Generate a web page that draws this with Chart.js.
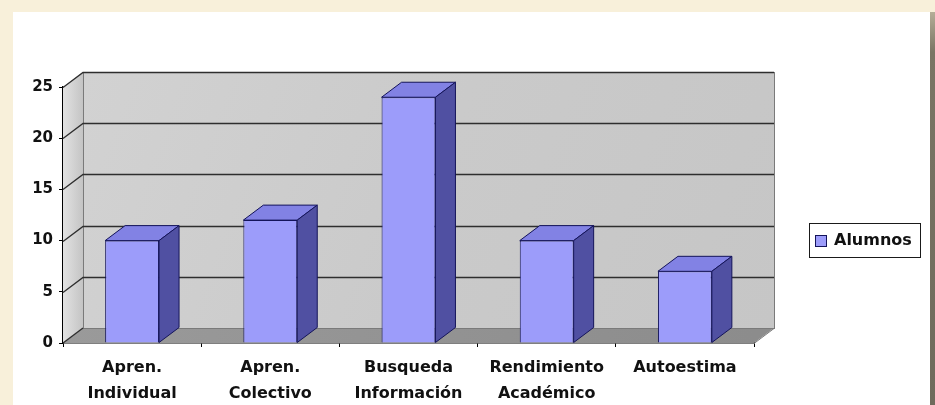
<!DOCTYPE html>
<html>
<head>
<meta charset="utf-8">
<script src="https://cdn.jsdelivr.net/npm/chart.js@4/dist/chart.umd.min.js"></script>
<style>
  html, body { margin:0; padding:0; width:935px; height:405px; overflow:hidden; background:#f8f0da; }
  #panel { position:absolute; left:13px; top:12px; width:917px; height:393px; background:#ffffff; }
  #shadow { position:absolute; left:930px; top:12px; width:5px; height:393px;
            background:linear-gradient(to bottom, #b5ae98 0px, #7a7564 40px, #6f6b5c 100%); }
  #wrap { position:absolute; left:0; top:0; width:935px; height:405px; }
</style>
</head>
<body>
<div id="panel"></div>
<div id="shadow"></div>
<div id="wrap"><canvas id="c" width="935" height="405"></canvas></div>
<script>
// ---- data ----
const categories = [
  ['Apren.', 'Individual'],
  ['Apren.', 'Colectivo'],
  ['Busqueda', 'Información'],
  ['Rendimiento', 'Académico'],
  ['Autoestima']
];
const seriesName = 'Alumnos';
const alumnos = [10, 12, 24, 10, 7];
const yTicks = [0, 5, 10, 15, 20, 25];

// ---- 3D look ----
const DX = 20, DY = -15;
const FONT = '"DejaVu Sans", Verdana, sans-serif';

const walls3d = {
  id: 'walls3d',
  beforeDatasetsDraw(chart) {
    const ctx = chart.ctx;
    const a = chart.chartArea;
    const ys = chart.scales.y;
    const L = a.left, R = a.right, T = a.top, B = a.bottom;
    ctx.save();
    // back wall
    let g = ctx.createLinearGradient(L + DX, T + DY, R + DX, B + DY);
    g.addColorStop(0, '#d2d2d2');
    g.addColorStop(0.5, '#cacaca');
    g.addColorStop(1, '#c6c6c6');
    ctx.fillStyle = g;
    ctx.fillRect(L + DX, T + DY, R - L, B - T);
    // left wall
    g = ctx.createLinearGradient(L, 0, L + DX, 0);
    g.addColorStop(0, '#e2e2e2');
    g.addColorStop(1, '#c4c4c4');
    ctx.fillStyle = g;
    ctx.beginPath();
    ctx.moveTo(L, B); ctx.lineTo(L, T); ctx.lineTo(L + DX, T + DY); ctx.lineTo(L + DX, B + DY);
    ctx.closePath(); ctx.fill();
    // floor
    g = ctx.createLinearGradient(L, 0, R, 0);
    g.addColorStop(0, '#9a9a9a');
    g.addColorStop(1, '#8c8c8c');
    ctx.fillStyle = g;
    ctx.beginPath();
    ctx.moveTo(L, B); ctx.lineTo(R, B); ctx.lineTo(R + DX, B + DY); ctx.lineTo(L + DX, B + DY);
    ctx.closePath(); ctx.fill();
    // back wall outline
    ctx.strokeStyle = '#7a7a7a';
    ctx.lineWidth = 1;
    ctx.strokeRect(L + DX + 0.5, T + DY + 0.5, R - L, B - T);
    ctx.beginPath();
    ctx.moveTo(R, B + 0.5); ctx.lineTo(R + DX, B + DY + 0.5);
    ctx.stroke();
    // gridlines
    ctx.strokeStyle = '#2e2e2e';
    ctx.lineWidth = 1.3;
    yTicks.forEach(v => {
      if (v === 0) return;
      const y = Math.round(ys.getPixelForValue(v)) + 0.5;
      ctx.beginPath();
      ctx.moveTo(L, y);
      ctx.lineTo(L + DX, y + DY);
      ctx.lineTo(R + DX, y + DY);
      ctx.stroke();
    });
    ctx.beginPath();
    ctx.moveTo(L, B); ctx.lineTo(L + DX, B + DY);
    ctx.stroke();
    ctx.restore();
  },
  afterDatasetsDraw(chart) {
    const ctx = chart.ctx;
    const meta = chart.getDatasetMeta(0);
    ctx.save();
    ctx.lineWidth = 1;
    ctx.strokeStyle = '#14145a';
    meta.data.forEach(bar => {
      const p = bar.getProps(['x', 'y', 'base', 'width'], true);
      const l = p.x - p.width / 2, r = p.x + p.width / 2, t = p.y, b = p.base;
      // top
      ctx.fillStyle = '#8282e4';
      ctx.beginPath();
      ctx.moveTo(l, t); ctx.lineTo(l + DX, t + DY); ctx.lineTo(r + DX, t + DY); ctx.lineTo(r, t);
      ctx.closePath(); ctx.fill(); ctx.stroke();
      // side
      ctx.fillStyle = '#5050a2';
      ctx.beginPath();
      ctx.moveTo(r, t); ctx.lineTo(r + DX, t + DY); ctx.lineTo(r + DX, b + DY); ctx.lineTo(r, b);
      ctx.closePath(); ctx.fill(); ctx.stroke();
    });
    ctx.restore();
  },
  afterDraw(chart) {
    const ctx = chart.ctx;
    const ds = chart.data.datasets[0];
    ctx.save();
    ctx.strokeStyle = '#1a1a1a';
    ctx.lineWidth = 1;
    ctx.strokeRect(809.5, 223.5, 111, 34);
    ctx.fillStyle = ds.backgroundColor;
    ctx.fillRect(815, 235, 12, 12);
    ctx.strokeStyle = '#14145a';
    ctx.strokeRect(815.5, 235.5, 11, 11);
    ctx.fillStyle = '#111';
    ctx.font = 'bold 16px ' + FONT;
    ctx.textBaseline = 'middle';
    ctx.textAlign = 'left';
    ctx.fillText(ds.label, 834, 241);
    ctx.restore();
  }
};

new Chart(document.getElementById('c'), {
  type: 'bar',
  data: {
    labels: categories,
    datasets: [{
      label: seriesName,
      data: alumnos,
      backgroundColor: '#9c9cfa',
      borderColor: '#14145a',
      borderWidth: 1,
      categoryPercentage: 1,
      barPercentage: 0.39
    }]
  },
  options: {
    responsive: false,
    animation: false,
    devicePixelRatio: 1,
    layout: { padding: { left: 0, right: 181, top: 87, bottom: 0 } },
    plugins: { legend: { display: false }, tooltip: { enabled: false } },
    scales: {
      x: {
        grid: { display: true, drawOnChartArea: false, drawTicks: true, tickLength: 4, color: '#000', offset: true },
        border: { color: '#000', width: 1.5 },
        ticks: { color: '#111', font: { family: FONT, size: 16, weight: 'bold', lineHeight: '26px' }, padding: 8, maxRotation: 0, autoSkip: false },
        afterFit(s) { s.height = 62; }
      },
      y: {
        min: 0, max: 25,
        grid: { display: true, drawOnChartArea: false, drawTicks: true, tickLength: 4, color: '#000' },
        border: { color: '#000', width: 1.5 },
        ticks: { stepSize: 5, color: '#111', font: { family: FONT, size: 15, weight: 'bold' }, padding: 6 },
        afterFit(s) { s.width = 63; }
      }
    }
  },
  plugins: [walls3d]
});
</script>
</body>
</html>
